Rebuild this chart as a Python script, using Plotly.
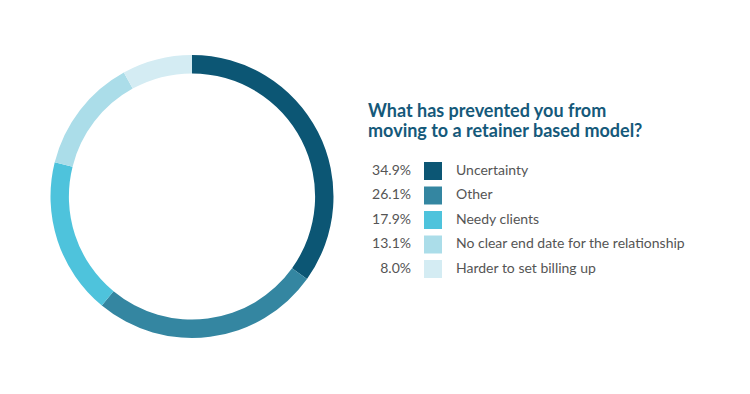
import plotly.graph_objects as go

categories = ["Uncertainty", "Other", "Needy clients",
              "No clear end date for the relationship", "Harder to set billing up"]
values = [34.9, 26.1, 17.9, 13.1, 8.0]
pct_labels = ["34.9%", "26.1%", "17.9%", "13.1%", "8.0%"]
colors = ["#0c5674", "#3486a1", "#4ec3dc", "#abdde9", "#d4ecf3"]
title_lines = ["What has prevented you from", "moving to a retainer based model?"]

W, H = 750, 394
idx = list(range(len(categories)))

fig = go.Figure()

fig.add_trace(go.Pie(
    labels=categories, values=values, sort=False, direction="clockwise",
    rotation=0, hole=0.87, textinfo="none", hoverinfo="none",
    marker=dict(colors=colors, line=dict(width=0)),
    domain=dict(x=[50 / W, 334 / W], y=[1 - 338 / H, 1 - 55 / H]),
    showlegend=False,
))

# legend squares
fig.add_trace(go.Scatter(
    x=[0] * len(idx), y=idx, mode="markers",
    marker=dict(symbol="square", size=18, color=colors, line=dict(width=0)),
    hoverinfo="skip", showlegend=False,
))
# percentages
fig.add_trace(go.Scatter(
    x=[-22] * len(idx), y=idx, mode="text", text=pct_labels,
    textposition="middle left", marker=dict(size=1),
    textfont=dict(family="Lato", size=14, color="#555555"),
    hoverinfo="skip", showlegend=False,
))
# category labels
fig.add_trace(go.Scatter(
    x=[23] * len(idx), y=idx, mode="text", text=categories,
    textposition="middle right", marker=dict(size=1),
    textfont=dict(family="Lato", size=14, color="#555555"),
    hoverinfo="skip", showlegend=False,
))

step = 24.5
r0 = -171 / step
annotations = []
for i, line in enumerate(title_lines):
    annotations.append(dict(
        text="<b>" + line + "</b>", xref="paper", yref="paper",
        x=366 / W, y=1 - (110 + 20 * i) / H, xanchor="left", yanchor="middle",
        align="left", showarrow=False,
        font=dict(family="Lato", size=18, color="#15597a"),
    ))

fig.update_layout(
    width=W, height=H, margin=dict(l=0, r=0, t=0, b=0),
    paper_bgcolor="white", plot_bgcolor="rgba(0,0,0,0)",
    xaxis=dict(range=[-433, W - 433], visible=False, domain=[0, 1], fixedrange=True),
    yaxis=dict(range=[r0 + H / step, r0], visible=False, domain=[0, 1], fixedrange=True),
    annotations=annotations,
)

fig.write_html("out.html", config={"displayModeBar": False},
               post_script="document.body.style.margin='0';")
